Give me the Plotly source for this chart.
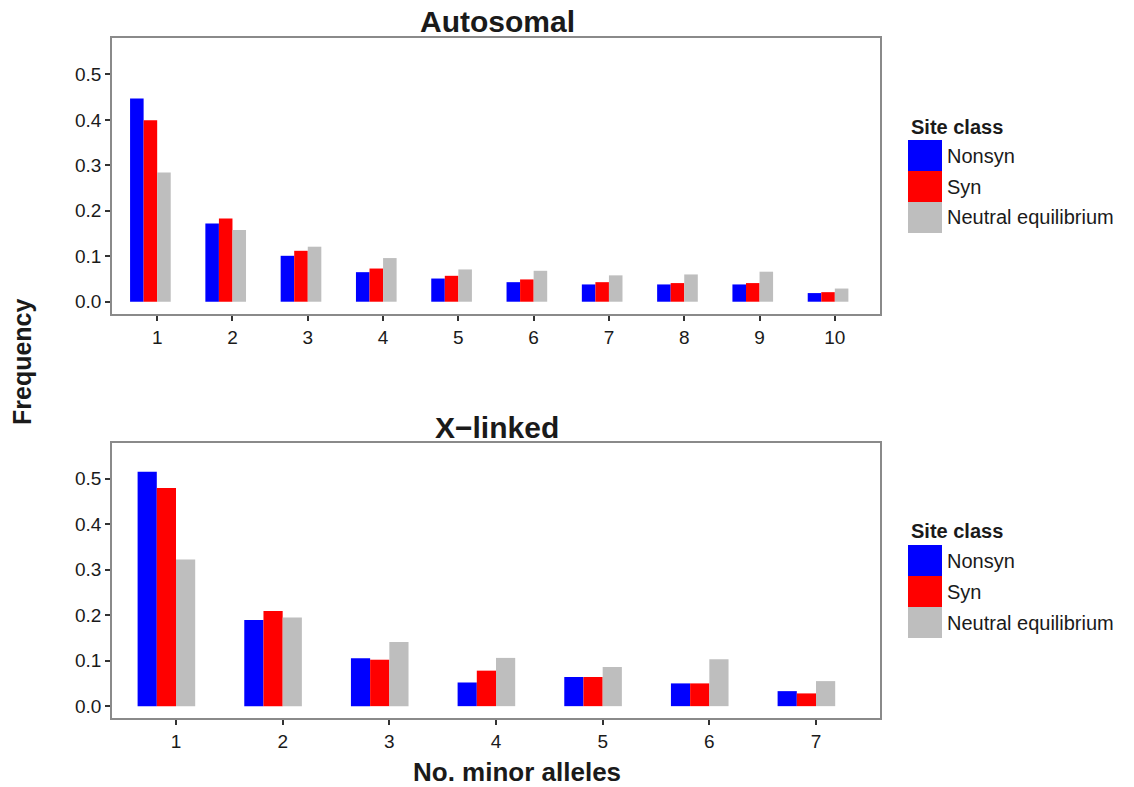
import plotly.graph_objects as go

# Site frequency spectra: frequency of sites by number of minor alleles
series_names = ["Nonsyn", "Syn", "Neutral equilibrium"]
series_colors = ["#0000FF", "#FF0000", "#BEBEBE"]

auto_alleles = [1, 2, 3, 4, 5, 6, 7, 8, 9, 10]
auto_nonsyn = [0.447, 0.172, 0.101, 0.065, 0.051, 0.043, 0.038, 0.038, 0.038, 0.019]
auto_syn = [0.399, 0.183, 0.112, 0.073, 0.057, 0.049, 0.043, 0.041, 0.041, 0.021]
auto_neutral = [0.284, 0.158, 0.121, 0.096, 0.071, 0.068, 0.058, 0.060, 0.066, 0.029]

x_alleles = [1, 2, 3, 4, 5, 6, 7]
x_nonsyn = [0.515, 0.189, 0.105, 0.052, 0.064, 0.050, 0.033]
x_syn = [0.479, 0.209, 0.102, 0.078, 0.064, 0.050, 0.028]
x_neutral = [0.322, 0.195, 0.141, 0.106, 0.086, 0.103, 0.055]

y_ticks = [0.0, 0.1, 0.2, 0.3, 0.4, 0.5]

FONT = "Liberation Sans, Arial, sans-serif"
TEXT = "#1a1a1a"
W, H = 1134, 787

bar_width = 0.18
bar_offsets = [-0.36, -0.18, 0.0]

fig = go.Figure()

panels = [
    (auto_alleles, [auto_nonsyn, auto_syn, auto_neutral], "x", "y"),
    (x_alleles, [x_nonsyn, x_syn, x_neutral], "x2", "y2"),
]
for cats, values, xa, ya in panels:
    for name, color, off, vals in zip(series_names, series_colors, bar_offsets, values):
        fig.add_trace(go.Bar(
            x=cats, y=vals, name=name, xaxis=xa, yaxis=ya,
            width=bar_width, offset=off,
            marker=dict(color=color, line=dict(width=0)),
            showlegend=False,
        ))

# panel geometry in pixels (left, right, top, bottom)
px_left, px_right = 112, 880
top_panel = (38, 314)
bot_panel = (443, 718)


def ydom(top, bottom):
    return [(H - bottom) / H, (H - top) / H]


axis_common = dict(
    showline=True, mirror=True, linecolor="#8a8a8a", linewidth=1.5,
    ticks="outside", ticklen=5, tickwidth=1.5, tickcolor="#333333",
    showgrid=False, zeroline=False,
    tickfont=dict(family=FONT, size=19, color=TEXT),
)

fig.update_layout(
    width=W, height=H,
    margin=dict(l=0, r=0, t=0, b=0),
    paper_bgcolor="white", plot_bgcolor="white",
    barmode="overlay",
    xaxis=dict(domain=[px_left / W, px_right / W], range=[0.4, 10.6],
               tickvals=auto_alleles, anchor="y", **axis_common),
    yaxis=dict(domain=ydom(*top_panel), range=[-0.027, 0.58],
               tickvals=y_ticks, tickformat=".1f", anchor="x", **axis_common),
    xaxis2=dict(domain=[px_left / W, px_right / W], range=[0.4, 7.6],
                tickvals=x_alleles, anchor="y2", **axis_common),
    yaxis2=dict(domain=ydom(*bot_panel), range=[-0.026, 0.578],
                tickvals=y_ticks, tickformat=".1f", anchor="x2", **axis_common),
)

annotations = [
    dict(text="<b>Autosomal</b>", x=497 / W, y=(H - 22) / H, font=dict(size=30)),
    dict(text="<b>X\u2212linked</b>", x=497 / W, y=(H - 427) / H, font=dict(size=30)),
    dict(text="<b>No. minor alleles</b>", x=517 / W, y=(H - 772) / H, font=dict(size=26)),
    dict(text="<b>Frequency</b>", x=22 / W, y=(H - 362) / H, font=dict(size=25), textangle=-90),
]

shapes = []
# legend for each panel: title, colour keys and labels
for title_y, key_top in [(127, 140), (531, 545)]:
    annotations.append(dict(text="<b>Site class</b>", x=909 / W, y=(H - title_y) / H,
                            xanchor="left", font=dict(size=20)))
    key_h = 31
    for i, (name, color) in enumerate(zip(series_names, series_colors)):
        y0 = key_top + i * key_h
        shapes.append(dict(type="rect", xref="paper", yref="paper",
                           x0=908 / W, x1=942 / W,
                           y0=(H - y0 - key_h) / H, y1=(H - y0) / H,
                           fillcolor=color, line=dict(width=0)))
        annotations.append(dict(text=name, x=945 / W, y=(H - y0 - key_h / 2) / H,
                                xanchor="left", font=dict(size=20)))

for a in annotations:
    a.setdefault("xref", "paper")
    a.setdefault("yref", "paper")
    a.setdefault("showarrow", False)
    a.setdefault("xanchor", "center")
    a.setdefault("yanchor", "middle")
    a["font"] = dict(family=FONT, color=TEXT, **a["font"])

fig.update_layout(annotations=annotations, shapes=shapes)

fig.write_html("out.html")
